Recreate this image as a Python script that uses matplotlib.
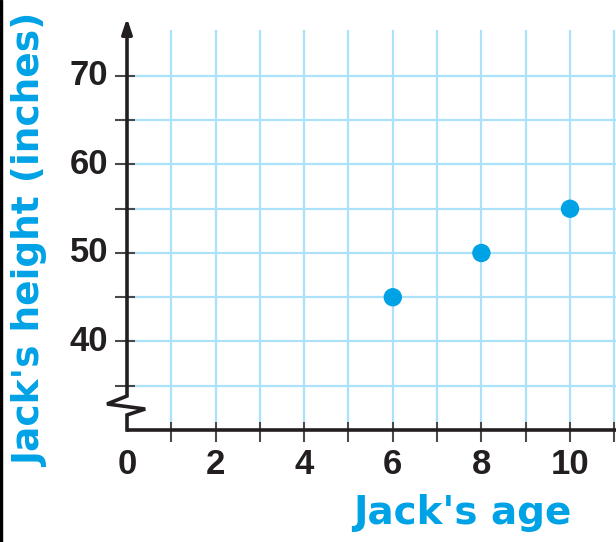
import matplotlib
matplotlib.use("Agg")
import matplotlib.pyplot as plt
from matplotlib.patches import Rectangle

# data
ages = [6, 8, 10]
heights = [45, 50, 55]
x_tick_labels = ["0", "2", "4", "6", "8", "10"]
x_label_pos = [0, 2, 4, 6, 8, 10]
x_ticks = list(range(1, 12))
y_label_vals = [40, 50, 60, 70]
y_ticks = [35, 40, 45, 50, 55, 60, 65, 70]
x_grid = list(range(1, 12))
y_grid = [35, 40, 45, 50, 55, 60, 65, 70]

W, H = 616, 542
fig = plt.figure(figsize=(W / 100, H / 100), dpi=100)
fig.patch.set_facecolor("white")

# axes placement (pixel based)
x0_px, x1_px = 127, 616
y0_px, y1_px = 430, 18  # bottom (value 30), top
ax = fig.add_axes([x0_px / W, 1 - y0_px / H, (x1_px - x0_px) / W, (y0_px - y1_px) / H])
xmin, xmax = 0, (x1_px - x0_px) / 44.3
ymin = 30
ymax = 30 + (y0_px - y1_px) / 8.85
ax.set_xlim(xmin, xmax)
ax.set_ylim(ymin, ymax)
ax.axis("off")

grid_c = "#abe2f9"
axis_c = "#231f20"
tick_c = "#4a4a4a"
cyan = "#00a2e6"

# grid
for gx in x_grid:
    ax.plot([gx, gx], [30.9, 75.2], color=grid_c, lw=1.6, zorder=1, solid_capstyle="butt")
for gy in y_grid:
    ax.plot([0, xmax], [gy, gy], color=grid_c, lw=1.6, zorder=1, solid_capstyle="butt")

# x axis ticks
for tx in x_ticks:
    ax.plot([tx, tx], [30 - 1.35, 30 + 0.95], color=tick_c, lw=1.5, zorder=3, clip_on=False,
            solid_capstyle="butt")
# y axis ticks
for ty in y_ticks:
    ax.plot([-0.27, 0.18], [ty, ty], color=tick_c, lw=1.5, zorder=3, clip_on=False,
            solid_capstyle="butt")

# x axis line
ax.plot([0, xmax + 0.1], [30, 30], color=axis_c, lw=2.6, zorder=4, clip_on=False,
        solid_capstyle="butt")
# y axis with break
bx = [0, 0, -0.45, 0.41, 0, 0]
by = [ymax - 1.0, 33.84, 32.94, 32.37, 31.7, 30]
ax.plot(bx, by, color=axis_c, lw=2.6, zorder=4, clip_on=False, solid_joinstyle="miter")
ax.annotate("", xy=(0, ymax), xytext=(0, ymax - 1.5),
            arrowprops=dict(arrowstyle="-|>,head_length=0.9,head_width=0.3",
                            color=axis_c, lw=2.6, shrinkA=0, shrinkB=0),
            annotation_clip=False, zorder=5)

# points
ax.scatter(ages, heights, s=175, color=cyan, zorder=6, edgecolors="none", clip_on=False)

# tick labels
tfont = dict(family="Liberation Sans", weight="bold", size=25, color="#231f20")
for xv, lab in zip(x_label_pos, x_tick_labels):
    ax.text(xv, 30 - 3.9, lab, ha="center", va="center", **tfont)
for yv in y_label_vals:
    ax.text(-0.42, yv, str(yv), ha="right", va="center", **tfont)

# axis titles
fig.text(462 / W, 1 - 513 / H, "Jack's age", ha="center", va="center",
         family="DejaVu Sans", weight="bold", size=28, color=cyan)
fig.text(31 / W, 1 - 240 / H, "Jack's height (inches)", ha="center", va="center",
         rotation=90, family="DejaVu Sans", weight="bold", size=27, color=cyan)

# left border strip
fig.add_artist(Rectangle((0, 0), 2 / W, 1, transform=fig.transFigure, color="black"))

fig.savefig("out.png", dpi=100, facecolor="white")
